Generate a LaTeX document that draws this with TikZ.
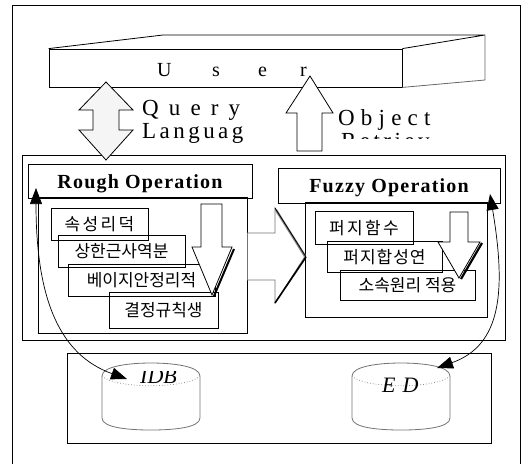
\documentclass[tikz,border=0pt]{standalone}
\usepackage{fontspec}
\setmainfont{Liberation Serif}
\newfontfamily\krfont{Noto Sans CJK KR}
\newfontfamily\krwide[LetterSpace=14]{Noto Sans CJK KR}
\newfontfamily\krmid[LetterSpace=6]{Noto Sans CJK KR}
\newfontfamily\qryfont[LetterSpace=44]{Liberation Serif}
\newfontfamily\lngfont[LetterSpace=15]{Liberation Serif}
\newfontfamily\objfont[LetterSpace=27]{Liberation Serif}
\newfontfamily\retfont[LetterSpace=15]{Liberation Serif}
\newfontfamily\hdfont[LetterSpace=6]{Liberation Serif}
\usetikzlibrary{arrows.meta}
\begin{document}
\begin{tikzpicture}[x=1pt,y=-1pt,
  frame/.style={draw, line width=0.8pt},
  rbox/.style={draw, line width=0.8pt, inner sep=0pt},
  kbox/.style={draw, line width=0.8pt, inner sep=0pt, font=\krfont\fontsize{17}{20}\selectfont},
  hdr/.style={inner sep=0pt, anchor=base, font=\hdfont\bfseries\fontsize{20}{20}\selectfont},
  ltr/.style={inner sep=0pt, anchor=base west, font=\fontsize{20}{20}\selectfont},
  fat/.style={draw, fill=white, line width=0.8pt, line join=miter},
  cyl/.style={draw=black!55, line width=0.8pt},
  dbtxt/.style={inner sep=0pt, anchor=base west, font=\itshape\fontsize{22}{22}\selectfont},
  side/.style={inner sep=0pt, anchor=base west},
  curve/.style={line width=0.7pt, {Triangle[length=16pt,width=12pt]}-{Triangle[length=16pt,width=12pt]}}
]
\useasboundingbox (0,0) rectangle (523,464);
% outer frame
\draw[frame] (12,464) -- (12,5) -- (520,5) -- (520,464);

% user slab
\node[rbox, minimum width=353pt, minimum height=38pt] (user) at (225.5,68) {};
\draw[frame] (user.north west) -- (163,35) -- (485,35) -- (user.north east);
\draw[draw=black!60, line width=0.8pt] (485,35) -- (485,80) -- (user.south east);
\node[ltr] (u1) at (157,76) {U};
\node[ltr] (u2) at (212,76) {s};
\node[ltr] (u3) at (258,76) {e};
\node[ltr] (u4) at (300,76) {r};

% main container
\node[rbox, minimum width=483pt, minimum height=185pt] (main) at (263.5,247.5) {};
% rough
\node[rbox, minimum width=209pt, minimum height=136pt] (rin) at (142.5,265) {};
\node[rbox, minimum width=224pt, minimum height=34pt] (rhd) at (140,181) {};
\node[hdr] (rtxt) at (140,188) {Rough Operation};
\node[kbox, minimum width=97pt, minimum height=32pt, font=\krwide\fontsize{17}{20}\selectfont] (k1) at (99.5,224) {속성리덕};
\node[kbox, minimum width=127pt, minimum height=32pt] (k2) at (121.5,251) {상한근사역분};
\node[kbox, minimum width=147pt, minimum height=32pt] (k3) at (141.5,280) {베이지안정리적};
\node[kbox, minimum width=109pt, minimum height=36pt] (k4) at (163.5,310) {결정규칙생};
% rough down arrow
\draw[line width=2pt] (234,249) -- (214,296);
\draw[fat] (201,204) -- (222,204) -- (222,247) -- (232,247) -- (212,295) -- (192,247) -- (201,247) -- cycle;

% fuzzy
\node[rbox, minimum width=182pt, minimum height=115pt] (fin) at (396,259.5) {};
\node[rbox, minimum width=222pt, minimum height=35pt] (fhd) at (389,185.5) {};
\node[hdr] (ftxt) at (389,192) {Fuzzy Operation};
\node[kbox, minimum width=98pt, minimum height=33pt, font=\krwide\fontsize{17}{20}\selectfont] (f1) at (364,228) {퍼지함수};
\node[kbox, minimum width=115pt, minimum height=31pt, font=\krmid\fontsize{17}{20}\selectfont] (f2) at (384.5,257) {퍼지합성연};
\node[kbox, minimum width=135pt, minimum height=30pt] (f3) at (407.5,285) {소속원리 적용};
\draw[line width=2.2pt] (482,243) -- (461,279);
\draw[fat] (450,212) -- (468,212) -- (468,242) -- (480,242) -- (459,278) -- (438,242) -- (450,242) -- cycle;

% big right arrow between operations
\draw[draw=black!55, fill=white, line width=0.8pt] (rin.east |- 0,233) -- (275,233) -- (275,208) -- (fin.west |- 0,257) -- (275,303) -- (275,280) -- (rin.east |- 0,280) -- cycle;
\draw[black!45, line width=2.4pt] (276,210) -- (305,256);
\draw[line width=0.8pt] (275,208) -- (306,257);
\draw[line width=1.6pt] (306,257) -- (275,303);

% query / object arrows
\draw[fat, fill=black!4] (106,82) -- (133,110) -- (119,110) -- (119,130) -- (133,130) -- (106,160) -- (79,130) -- (93,130) -- (93,110) -- (79,110) -- cycle;
\draw[fat] (310,76) -- (333,113) -- (322,113) -- (322,151) -- (297,151) -- (297,113) -- (286,113) -- cycle;
\node[side, font=\qryfont\fontsize{23}{23}\selectfont] (qry) at (142,115) {Query};
\node[side, font=\lngfont\fontsize{23}{23}\selectfont] (lng) at (142,138) {Languag};
\node[side, font=\objfont\fontsize{23}{23}\selectfont] (obj) at (338,125) {Object};
\begin{scope}
  \clip (335,128) rectangle (450,138);
  \node[side, font=\retfont\fontsize{23}{23}\selectfont] (ret) at (341,148) {Retriev};
\end{scope}

% database area
\node[rbox, minimum width=424pt, minimum height=90pt] (db) at (279,398) {};
% IDB cylinder
\draw[cyl] (102,376) .. controls (102,366) and (130,363) .. (151,363) .. controls (172,363) and (200,366) .. (200,376) -- (200,418) .. controls (200,428) and (172,430) .. (151,430) .. controls (130,430) and (102,428) .. (102,418) -- cycle;
\draw[black!45, dotted, line width=0.8pt] (102,376) .. controls (115,389) and (187,389) .. (200,376);
% ED cylinder
\draw[cyl] (352,376) .. controls (352,366) and (380,363) .. (401,363) .. controls (422,363) and (450,366) .. (450,376) -- (450,418) .. controls (450,428) and (422,430) .. (401,430) .. controls (380,430) and (352,428) .. (352,418) -- cycle;
\draw[black!45, dotted, line width=0.8pt] (352,376) .. controls (365,389) and (437,389) .. (450,376);
\begin{scope}
  \clip (130,371) rectangle (195,400);
  \node[dbtxt] (idb) at (140,383) {IDB};
\end{scope}
\node[dbtxt] (ed) at (382,392) {E\hspace{7pt}D};

% curved double arrows
\coordinate (la) at (36,188);
\coordinate (lb) at (127,379);
\coordinate (ra) at (490,194);
\coordinate (rb) at (437,368);
\draw[curve] (la) .. controls (36,300) and (60,355) .. (lb);
\draw[curve] (ra) .. controls (506,290) and (502,345) .. (rb);
\end{tikzpicture}
\end{document}
